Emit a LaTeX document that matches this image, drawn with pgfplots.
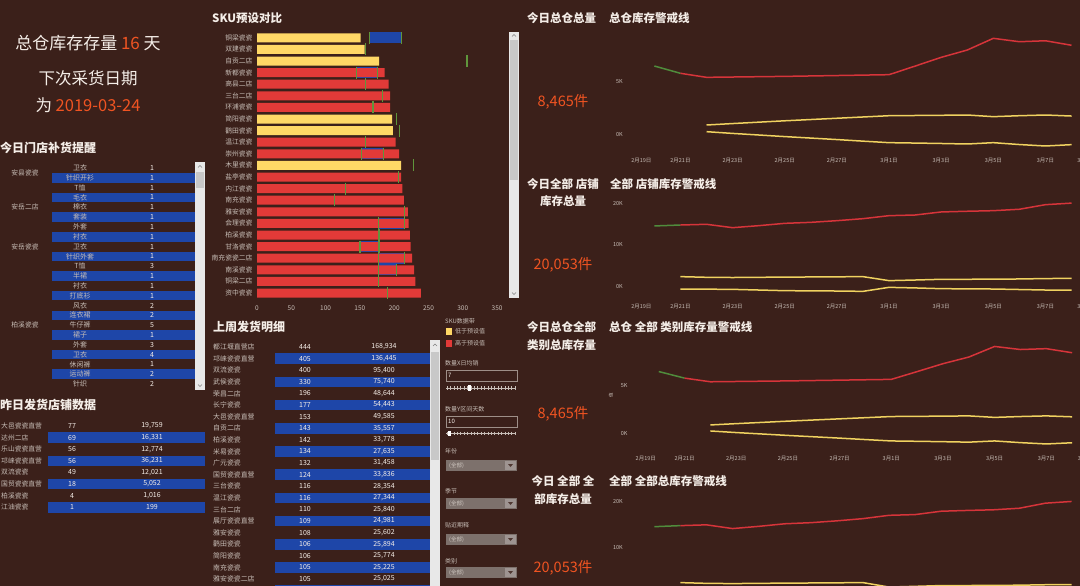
\documentclass[border=0pt]{standalone}
\usepackage{pgfplots}
\pgfplotsset{compat=1.18}
\usepackage{pgfplotstable}
\usepackage{fontspec}
\setmainfont{Noto Sans CJK SC}
\definecolor{bg}{RGB}{59,32,26}
\definecolor{txt}{RGB}{245,238,232}
\definecolor{lbl}{RGB}{200,190,183}
\definecolor{orng}{RGB}{240,84,34}
\definecolor{ylw}{RGB}{255,216,102}
\definecolor{rd}{RGB}{226,58,56}
\definecolor{blu}{RGB}{30,70,168}
\definecolor{grn}{RGB}{96,150,60}
\definecolor{lred}{RGB}{214,52,58}
\definecolor{lylw}{RGB}{240,210,96}
\definecolor{lgrn}{RGB}{80,140,60}
\definecolor{scr}{RGB}{232,232,232}
\definecolor{thumbc}{RGB}{200,200,200}
\definecolor{drop}{RGB}{125,113,108}
\newcommand\fs[1]{\fontsize{#1}{#1}\selectfont}

% ---------- SKU bar chart data ----------
\pgfplotstableread{
row val
1 151
2 157
3 178
8 197
9 198
12 210
}\yellowbars
\pgfplotstableread{
row val
4 186
5 192
6 194
7 194
10 202
11 207
13 210
14 212
15 214
16 220
17 221
18 223
19 224
20 226
21 229
22 231
23 239
}\redbars
\pgfplotstableread{
row lo hi
1 164 211
4 145 176
11 152 184
17 177 215
19 150 178
20 177 215
21 177 203
}\ranges
\pgfplotstableread{
row t
1 164
1 211
2 158
3 306
4 145
4 176
5 158
6 183
7 169
8 203
9 208
10 158
11 152
11 184
12 228
13 206
14 129
15 113
16 215
17 177
17 215
18 178
19 150
19 178
20 177
20 215
21 177
21 203
22 177
23 190
}\ticksdata

% ---------- warehouse lines ----------
\pgfplotstableread{
d v
-1 6507
0 5820
}\whgreen
\pgfplotstableread{
d v
0 5820
1 5440
2 5470
3 5500
4 5530
5 5570
6 5610
7 5650
8 5690
9 6500
10 7325
11 8015
12 9120
13 8800
14 8890
15 8465
}\whred
\pgfplotstableread{
d up lo
1 943 314
2 1080 150
3 1210 0
4 1340 -150
5 1460 -290
6 1580 -430
7 1700 -580
8 1820 -723
9 1840 -760
10 1860 -800
11 1886 -849
12 1730 -723
13 1820 -900
14 1886 -1037
15 1790 -911
}\whband

% ---------- store lines ----------
\pgfplotstableread{
d v
-1 14570
0 14800
}\stgreen
\pgfplotstableread{
d v
0 14800
1 14970
2 14160
3 14640
4 15200
5 15440
6 15840
7 16320
8 17040
9 17200
10 17930
11 18100
12 18240
13 18580
14 19680
15 20053
}\stred
\pgfplotstableread{
d up lo
0 2410 -560
1 2250 -600
2 2200 -640
3 2250 -800
4 2300 -960
5 2330 -1000
6 2370 -1040
7 2410 -1120
8 1450 -160
9 1600 -300
10 1770 -480
11 1780 -520
12 1800 -560
13 1850 -680
14 1950 -800
15 2000 -800
}\stband

\pgfplotsset{
 lc/.style={scale only axis, anchor=south west,
  axis line style={draw=none}, tick style={draw=none}, major tick length=0pt,
  scaled y ticks=false, clip=false,
  xmin=-2, xmax=16,
  xtick={-1.5,0,2,4,6,8,10,12,14,15.55},
  xticklabels={2月19日,2月21日,2月23日,2月25日,2月27日,3月1日,3月3日,3月5日,3月7日,3月9日},
  ticklabel style={font=\fs{5.5}, text=lbl},
  xticklabel style={yshift=-4pt},
  yticklabel style={xshift=-2pt}},
 ln/.style={line width=1.5pt, line join=round}
}

\begin{document}
\begin{tikzpicture}
\path[use as bounding box] (0pt,0pt) rectangle (1080pt,-586pt);
\clip (0pt,0pt) rectangle (1080pt,-586pt);
\fill[bg] (0pt,0pt) rectangle (1080pt,-586pt);

\begin{scope}[x=1pt,y=-1pt]
% ---- top-left KPI text ----
\node[font=\fs{17}, text=txt] at (88,43) {总仓库存存量 \textcolor{orng}{16} 天};
\node[font=\fs{16.5}, text=txt] at (88,78) {下次采货日期};
\node[font=\fs{16.5}, text=txt] at (88,105) {为 \textcolor{orng}{2019-03-24}};

% ---- section titles ----
\node[font=\fs{12}\bfseries, text=txt, anchor=west, inner sep=0] at (0,148) {今日门店补货提醒};
\node[font=\fs{12}\bfseries, text=txt, anchor=west, inner sep=0] at (0,405) {昨日发货店铺数据};
\node[font=\fs{11.5}\bfseries, text=txt, anchor=west, inner sep=0] at (212,18) {SKU预设对比};
\node[font=\fs{12}\bfseries, text=txt, anchor=west, inner sep=0] at (213,327) {上周发货明细};

% ---- table 1 ----
\foreach \n/\v [count=\i] in {卫衣/1,针织开衫/1,T恤/1,毛衣/1,棉衣/1,套装/1,外套/1,衬衣/1,卫衣/1,针织外套/1,T恤/3,半裙/1,衬衣/1,打底衫/1,风衣/2,连衣裙/2,牛仔裤/5,裙子/1,外套/3,卫衣/4,休闲裤/1,运动裤/2,针织/2}{
  \pgfmathsetmacro\yy{168+(\i-1)*9.82}
  \ifodd\i\relax\else\fill[blu] (52,\yy-4.8) rectangle (195,\yy+4.8);\fi
  \node[font=\fs{7}, text=lbl] at (80,\yy) {\n};
  \node[font=\fs{7}, text=txt] at (152,\yy) {\v};
}
\node[font=\fs{6.8}, text=lbl] at (25,172.9) {安县瓷瓷};
\node[font=\fs{6.8}, text=lbl] at (25,207.3) {安岳二店};
\node[font=\fs{6.8}, text=lbl] at (25,246.6) {安岳瓷瓷};
\node[font=\fs{6.8}, text=lbl] at (25,325) {柏溪瓷瓷};
\fill[scr] (195,162) rectangle (205,390);
\fill[thumbc] (196,172) rectangle (204,188);
\draw[gray, line width=0.6pt] (198,167.5)--(200,165.5)--(202,167.5);
\draw[gray, line width=0.6pt] (198,384.5)--(200,386.5)--(202,384.5);

% ---- table 2 ----
\foreach \n/\ca/\cb [count=\i] in {大邑瓷瓷直营/77/19{,}759,达州二店/69/16{,}331,乐山瓷瓷直营/56/12{,}774,邛崃瓷瓷直营/56/36{,}231,双流瓷瓷/49/12{,}021,国贸瓷瓷直营/18/5{,}052,柏溪瓷瓷/4/1{,}016,江油瓷瓷/1/199}{
  \pgfmathsetmacro\yy{426+(\i-1)*11.6}
  \ifodd\i\relax\else\fill[blu] (48,\yy-5.3) rectangle (205,\yy+5.3);\fi
  \node[font=\fs{6.8}, text=lbl, anchor=west, inner sep=0] at (1,\yy) {\n};
  \node[font=\fs{7}, text=txt] at (72,\yy) {\ca};
  \node[font=\fs{7}, text=txt] at (152,\yy) {\cb};
}

% ---- table 3 ----
\foreach \n/\ca/\cb [count=\i] in {都江堰直营店/444/168{,}934,邛崃瓷瓷直营/405/136{,}445,双流瓷瓷/400/95{,}400,武侯瓷瓷/330/75{,}740,荣昌二店/196/48{,}644,长宁瓷瓷/177/54{,}443,大邑瓷瓷直营/153/49{,}585,自贡二店/143/35{,}557,柏溪瓷瓷/142/33{,}778,米易瓷瓷/134/27{,}635,广元瓷瓷/132/31{,}458,国贸瓷瓷直营/124/33{,}836,三台瓷瓷/116/28{,}354,温江瓷瓷/116/27{,}344,三台二店/110/25{,}840,展厅瓷瓷直营/109/24{,}981,雅安瓷瓷/108/25{,}602,鹳田瓷瓷/106/25{,}894,简阳瓷瓷/106/25{,}774,南充瓷瓷/105/25{,}225,雅安瓷瓷二店/105/25{,}025}{
  \pgfmathsetmacro\yy{347+(\i-1)*11.6}
  \ifodd\i\relax\else\fill[blu] (275,\yy-5.3) rectangle (430,\yy+5.3);\fi
  \node[font=\fs{6.9}, text=lbl, anchor=west, inner sep=0] at (213,\yy) {\n};
  \node[font=\fs{7}, text=txt] at (305,\yy) {\ca};
  \node[font=\fs{7}, text=txt] at (384,\yy) {\cb};
}
\fill[blu] (275,584.9) rectangle (430,596);
\fill[scr] (430,340) rectangle (440,586);
\fill[thumbc] (431,352) rectangle (439,460);
\draw[gray, line width=0.6pt] (433,346)--(435,344)--(437,346);

% ---- bar chart scrollbar ----
\fill[scr] (509,32) rectangle (519,298);
\fill[thumbc] (510,40) rectangle (518,180);
\draw[gray, line width=0.6pt] (512,36.5)--(514,34.5)--(516,36.5);
\draw[gray, line width=0.6pt] (512,292.5)--(514,294.5)--(516,292.5);

% ---- filter panel ----
\begin{scope}[font=\fs{6}]
\node[text=lbl, anchor=west, inner sep=0] at (445,321) {SKU数据带};
\fill[ylw] (446,328) rectangle (452,335);
\node[text=lbl, anchor=west, inner sep=0] at (455,331.5) {低于预设值};
\fill[rd] (446,340) rectangle (452,347);
\node[text=lbl, anchor=west, inner sep=0] at (455,343.5) {高于预设值};
\node[text=lbl, anchor=west, inner sep=0] at (445,363) {数量X日均销};
\draw[lbl!70!bg, line width=0.6pt] (446,370) rectangle (517,381);
\node[text=txt, anchor=west, inner sep=0] at (448,375.5) {7};
\draw[lbl, line width=0.8pt] (446,388) -- (516,388);
\foreach \k in {0,...,20}{\draw[lbl, line width=0.4pt] (447+\k*3.4,386.2) -- (447+\k*3.4,389.8);}
\fill[white] (467.5,385.3) rectangle (470.5,390.7);
\node[text=lbl, anchor=west, inner sep=0] at (445,409) {数量Y区间天数};
\draw[lbl!70!bg, line width=0.6pt] (446,416) rectangle (517,427);
\node[text=txt, anchor=west, inner sep=0] at (448,421.5) {10};
\draw[lbl, line width=0.8pt] (446,433.5) -- (516,433.5);
\foreach \k in {0,...,20}{\draw[lbl, line width=0.4pt] (447+\k*3.4,431.7) -- (447+\k*3.4,435.3);}
\fill[white] (447.5,430.8) rectangle (450.5,436.2);
\foreach \t/\ly/\dy in {年份/451.7/460,季节/491.7/498,贴近期释/525/534,类别/561.7/567}{
  \node[text=lbl, anchor=west, inner sep=0] at (445,\ly) {\t};
  \fill[drop] (446,\dy) rectangle (517,\dy+11);
  \node[text=lbl!85!white, anchor=west, inner sep=0, font=\fs{5.5}] at (449,\dy+5.5) {(全部)};
  \fill[drop!75!white] (505,\dy+1) rectangle (516,\dy+10);
  \fill[bg!70!drop] (508,\dy+4) -- (513,\dy+4) -- (510.5,\dy+7) -- cycle;
}
\end{scope}

% ---- right column texts ----
\node[font=\fs{11.5}\bfseries, text=txt, anchor=west, inner sep=0] at (527,18) {今日总仓总量};
\node[font=\fs{11.5}\bfseries, text=txt, anchor=west, inner sep=0] at (609,18) {总仓库存警戒线};
\node[font=\fs{14.5}, text=orng] at (563,102) {8,465件};

\node[font=\fs{11.5}\bfseries, text=txt] at (563,184) {今日全部 店铺};
\node[font=\fs{11.5}\bfseries, text=txt] at (563,201) {库存总量};
\node[font=\fs{11.5}\bfseries, text=txt, anchor=west, inner sep=0] at (610,184) {全部 店铺库存警戒线};
\node[font=\fs{14.5}, text=orng] at (563,265) {20,053件};

\node[font=\fs{11.5}\bfseries, text=txt, anchor=west, inner sep=0] at (527,327.5) {今日总仓全部};
\node[font=\fs{11.5}\bfseries, text=txt, anchor=west, inner sep=0] at (527,345.5) {类别总库存量};
\node[font=\fs{11.5}\bfseries, text=txt, anchor=west, inner sep=0] at (609,327.5) {总仓 全部 类别库存量警戒线};
\node[font=\fs{14.5}, text=orng] at (563,414) {8,465件};
\node[font=\fs{4.5}, text=lbl, rotate=90] at (611,395) {值};

\node[font=\fs{11.5}\bfseries, text=txt] at (563,481.5) {今日 全部 全};
\node[font=\fs{11.5}\bfseries, text=txt] at (563,499.5) {部库存总量};
\node[font=\fs{11.5}\bfseries, text=txt, anchor=west, inner sep=0] at (609,481.5) {全部 全部总库存警戒线};
\node[font=\fs{14.5}, text=orng] at (563,568) {20,053件};
\end{scope}

% ================= SKU bar chart =================
\begin{axis}[
  at={(257pt,-298.8pt)}, anchor=south west, scale only axis,
  width=240.1pt, height=266.8pt,
  xmin=0, xmax=350, ymin=0.5, ymax=23.5, y dir=reverse,
  axis line style={draw=none}, tick style={draw=none}, major tick length=0pt,
  xtick={0,50,...,350}, ytick={1,...,23},
  yticklabels={铜梁瓷瓷,双建瓷瓷,自贡二店,新都瓷瓷,高县二店,三台二店,环浦瓷瓷,简阳瓷瓷,鹳田瓷瓷,温江瓷瓷,崇州瓷瓷,木里瓷瓷,盐亭瓷瓷,内江瓷瓷,南充瓷瓷,雅安瓷瓷,会理瓷瓷,柏溪瓷瓷,甘洛瓷瓷,南充瓷瓷二店,南溪瓷瓷,铜梁二店,资中瓷瓷},
  yticklabel style={font=\fs{6.8}, text=lbl, xshift=-1pt},
  xticklabel style={font=\fs{6.5}, text=lbl, yshift=-3pt},
  /pgf/number format/assume math mode=true,
  clip=false,
]
\addplot[draw=none, mark=none, error bars/.cd, x dir=both, x explicit, error mark=none,
  error bar style={line width=11pt, draw=blu, solid}]
  table[x expr={(\thisrow{lo}+\thisrow{hi})/2}, y=row, x error expr={(\thisrow{hi}-\thisrow{lo})/2}]{\ranges};
\addplot[xbar, bar width=9pt, bar shift=0pt, fill=ylw, draw=none] table[x=val, y=row]{\yellowbars};
\addplot[xbar, bar width=9pt, bar shift=0pt, fill=rd, draw=none] table[x=val, y=row]{\redbars};
\addplot[only marks, mark=|, mark size=6pt, mark options={line width=1.3pt, draw=grn}] table[x=t, y=row]{\ticksdata};
\end{axis}

% ================= panel 1 =================
\begin{axis}[lc, at={(628.3pt,-150.9pt)}, width=469.3pt, height=121.9pt,
  ymin=-1500, ymax=10000, ytick={0,5000}, yticklabels={0K,5K}]
\addplot[ln, lylw] table[x=d,y=up]{\whband};
\addplot[ln, lylw] table[x=d,y=lo]{\whband};
\addplot[ln, lgrn] table[x=d,y=v]{\whgreen};
\addplot[ln, lred] table[x=d,y=v]{\whred};
\end{axis}

% ================= panel 2 =================
\begin{axis}[lc, at={(628.3pt,-297.1pt)}, width=469.3pt, height=102.1pt,
  ymin=-2500, ymax=22000, ytick={0,10000,20000}, yticklabels={0K,10K,20K}]
\addplot[ln, lylw] table[x=d,y=up]{\stband};
\addplot[ln, lylw] table[x=d,y=lo]{\stband};
\addplot[ln, lgrn] table[x=d,y=v]{\stgreen};
\addplot[ln, lred] table[x=d,y=v]{\stred};
\end{axis}

% ================= panel 3 =================
\begin{axis}[lc, at={(632.9pt,-448.4pt)}, width=465.1pt, height=110.4pt,
  ymin=-1500, ymax=10000, ytick={0,5000}, yticklabels={0K,5K}]
\addplot[ln, lylw] table[x=d,y=up]{\whband};
\addplot[ln, lylw] table[x=d,y=lo]{\whband};
\addplot[ln, lgrn] table[x=d,y=v]{\whgreen};
\addplot[ln, lred] table[x=d,y=v]{\whred};
\end{axis}

% ================= panel 4 =================
\begin{axis}[lc, at={(628.3pt,-605.2pt)}, width=469.3pt, height=112.7pt,
  ymin=-2500, ymax=22000, ytick={10000,20000}, yticklabels={10K,20K},
  xtick=\empty]
\addplot[ln, lylw] table[x=d,y=up]{\stband};
\addplot[ln, lylw] table[x=d,y=lo]{\stband};
\addplot[ln, lgrn] table[x=d,y=v]{\stgreen};
\addplot[ln, lred] table[x=d,y=v]{\stred};
\end{axis}
\end{tikzpicture}
\end{document}
